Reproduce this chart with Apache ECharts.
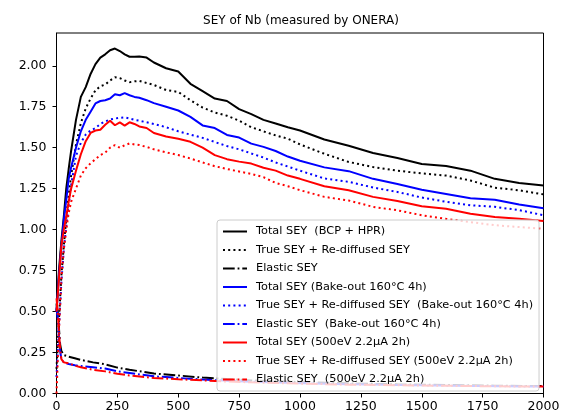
<!DOCTYPE html>
<html>
<head>
<meta charset="utf-8">
<script src="https://cdn.jsdelivr.net/npm/echarts@6/dist/echarts.min.js"></script>
<style>
html,body{margin:0;padding:0;background:#fff;}
#chart{width:566px;height:416px;}
</style>
</head>
<body>
<div id="chart"></div>
<script>
// ---- data ----
const energy = [0, 10, 20, 30, 40, 50, 60, 80, 100, 120, 140, 160, 180, 200, 220, 240, 260, 280, 300, 320, 340, 370, 400, 450, 500, 550, 600, 650, 700, 750, 800, 850, 900, 950, 1000, 1100, 1200, 1300, 1400, 1500, 1600, 1700, 1800, 1900, 2000];

const totalBCP = [0.50, 0.75, 0.93, 1.08, 1.25, 1.37, 1.48, 1.67, 1.81, 1.87, 1.95, 2.01, 2.05, 2.07, 2.095, 2.105, 2.09, 2.07, 2.055, 2.055, 2.056, 2.05, 2.02, 1.985, 1.965, 1.89, 1.845, 1.80, 1.785, 1.735, 1.705, 1.67, 1.648, 1.625, 1.605, 1.55, 1.512, 1.468, 1.437, 1.40, 1.388, 1.36, 1.31, 1.285, 1.27];
const trueBCP = [0.15, 0.45, 0.72, 0.90, 1.07, 1.21, 1.33, 1.52, 1.65, 1.74, 1.80, 1.85, 1.875, 1.885, 1.91, 1.93, 1.925, 1.91, 1.90, 1.905, 1.908, 1.895, 1.883, 1.852, 1.84, 1.79, 1.745, 1.715, 1.695, 1.665, 1.625, 1.60, 1.575, 1.555, 1.52, 1.463, 1.413, 1.382, 1.36, 1.343, 1.33, 1.30, 1.256, 1.24, 1.215];

const totalBake = [0.50, 0.72, 0.90, 1.06, 1.18, 1.31, 1.38, 1.50, 1.60, 1.67, 1.72, 1.77, 1.785, 1.79, 1.80, 1.826, 1.82, 1.833, 1.82, 1.81, 1.805, 1.79, 1.772, 1.75, 1.727, 1.688, 1.636, 1.62, 1.578, 1.562, 1.525, 1.505, 1.48, 1.446, 1.42, 1.38, 1.357, 1.31, 1.278, 1.243, 1.218, 1.192, 1.183, 1.153, 1.13];
const trueBake = [0.10, 0.40, 0.68, 0.88, 1.02, 1.15, 1.27, 1.45, 1.53, 1.58, 1.605, 1.62, 1.645, 1.66, 1.672, 1.678, 1.682, 1.685, 1.678, 1.67, 1.665, 1.655, 1.645, 1.625, 1.60, 1.58, 1.56, 1.535, 1.51, 1.49, 1.465, 1.44, 1.41, 1.385, 1.36, 1.312, 1.292, 1.257, 1.23, 1.196, 1.17, 1.149, 1.139, 1.119, 1.088];

const totalBeam = [0.50, 0.70, 0.90, 1.00, 1.08, 1.17, 1.25, 1.36, 1.46, 1.54, 1.59, 1.605, 1.61, 1.64, 1.665, 1.637, 1.655, 1.635, 1.655, 1.645, 1.63, 1.62, 1.59, 1.568, 1.555, 1.536, 1.50, 1.455, 1.43, 1.415, 1.403, 1.378, 1.36, 1.33, 1.31, 1.265, 1.24, 1.20, 1.175, 1.143, 1.127, 1.097, 1.077, 1.067, 1.053];
const trueBeam = [0.00, 0.38, 0.70, 0.88, 1.00, 1.10, 1.17, 1.25, 1.33, 1.375, 1.405, 1.43, 1.455, 1.47, 1.50, 1.516, 1.50, 1.515, 1.526, 1.52, 1.516, 1.505, 1.49, 1.472, 1.455, 1.434, 1.41, 1.387, 1.37, 1.355, 1.34, 1.32, 1.285, 1.265, 1.241, 1.20, 1.178, 1.139, 1.118, 1.088, 1.066, 1.046, 1.027, 1.016, 1.005];

const energyElastic = [0, 5, 10, 15, 20, 30, 50, 75, 100, 150, 200, 250, 300, 400, 500, 600, 700, 800, 1000, 1200, 1400, 1600, 1800, 2000];
const elasticBCP = [0.55, 0.50, 0.40, 0.30, 0.26, 0.235, 0.225, 0.215, 0.205, 0.19, 0.178, 0.158, 0.145, 0.122, 0.11, 0.097, 0.088, 0.08, 0.07, 0.062, 0.056, 0.052, 0.048, 0.045];
const elasticBake = [0.52, 0.46, 0.36, 0.26, 0.21, 0.19, 0.18, 0.172, 0.168, 0.16, 0.152, 0.135, 0.125, 0.105, 0.095, 0.085, 0.078, 0.072, 0.063, 0.057, 0.052, 0.048, 0.045, 0.042];
const elasticBeam = [0.58, 0.50, 0.38, 0.27, 0.21, 0.19, 0.185, 0.17, 0.16, 0.145, 0.135, 0.12, 0.11, 0.095, 0.087, 0.08, 0.073, 0.068, 0.06, 0.054, 0.05, 0.047, 0.044, 0.042];

const seriesNames = [
  'Total SEY  (BCP + HPR)',
  'True SEY + Re-diffused SEY',
  'Elastic SEY',
  'Total SEY (Bake-out 160°C 4h)',
  'True SEY + Re-diffused SEY  (Bake-out 160°C 4h)',
  'Elastic SEY  (Bake-out 160°C 4h)',
  'Total SEY (500eV 2.2μA 2h)',
  'True SEY + Re-diffused SEY (500eV 2.2μA 2h)',
  'Elastic SEY  (500eV 2.2μA 2h)'
];
const xTicks = [0, 250, 500, 750, 1000, 1250, 1500, 1750, 2000];
const yTicks = [0, 0.25, 0.5, 0.75, 1.0, 1.25, 1.5, 1.75, 2.0];
const titleText = 'SEY of Nb (measured by ONERA)';

// ---- build ----
const FONT = 'DejaVu Sans';
const LW = 2;
const DOT = [2, 3.2];
const DASHDOT = [11.7, 2.9, 1.8, 2.9];
function pairs(xs, ys) { return xs.map((x, i) => [x, ys[i]]); }
function mk(name, xs, ys, color, dash) {
  return {
    name: name, type: 'line', symbol: 'none', animation: false,
    data: pairs(xs, ys),
    lineStyle: { color: color, width: LW, type: dash },
    itemStyle: { color: color },
    emphasis: { disabled: true }
  };
}
const series = [
  mk(seriesNames[0], energy, totalBCP, '#000000', 'solid'),
  mk(seriesNames[1], energy, trueBCP, '#000000', DOT),
  mk(seriesNames[2], energyElastic, elasticBCP, '#000000', DASHDOT),
  mk(seriesNames[3], energy, totalBake, '#0000ff', 'solid'),
  mk(seriesNames[4], energy, trueBake, '#0000ff', DOT),
  mk(seriesNames[5], energyElastic, elasticBake, '#0000ff', DASHDOT),
  mk(seriesNames[6], energy, totalBeam, '#ff0000', 'solid'),
  mk(seriesNames[7], energy, trueBeam, '#ff0000', DOT),
  mk(seriesNames[8], energyElastic, elasticBeam, '#ff0000', DASHDOT)
];

const chart = echarts.init(document.getElementById('chart'), null, { renderer: 'canvas' });
chart.setOption({
  animation: false,
  backgroundColor: '#ffffff',
  title: {
    text: titleText, left: 296, top: 10, textAlign: 'center',
    textStyle: { fontFamily: FONT, fontSize: 12, fontWeight: 'normal', color: '#000' }
  },
  grid: { left: 56.5, right: 22.5, top: 33, bottom: 22.5, show: true, borderColor: '#000', borderWidth: 1, backgroundColor: 'transparent', containLabel: false },
  legend: {
    data: seriesNames, orient: 'vertical', left: 217, top: 220,
    itemWidth: 24, itemHeight: 12, itemGap: 7.5,
    padding: [6, 6, 6, 5],
    backgroundColor: 'rgba(255,255,255,0.8)', borderColor: '#cccccc', borderWidth: 1, borderRadius: 3,
    selectedMode: false,
    itemStyle: { opacity: 0, color: 'transparent', borderWidth: 0 },
    textStyle: { fontFamily: FONT, fontSize: 11.3, color: '#000', padding: [0, 0, 0, 4] }
  },
  xAxis: {
    type: 'value', min: 0, max: 2000, interval: 250,
    axisLine: { show: true, lineStyle: { color: '#000', width: 1 } },
    axisTick: { show: true, inside: false, length: 4, lineStyle: { color: '#000' }, customValues: xTicks },
    axisLabel: { fontFamily: FONT, fontSize: 12.5, color: '#000', margin: 7, customValues: xTicks, formatter: v => String(v) },
    splitLine: { show: false }
  },
  yAxis: {
    type: 'value', min: 0, max: 2.2,
    axisLine: { show: true, lineStyle: { color: '#000', width: 1 } },
    axisTick: { show: true, inside: false, length: 4, lineStyle: { color: '#000' }, customValues: yTicks },
    axisLabel: { fontFamily: FONT, fontSize: 12.5, color: '#000', margin: 10, customValues: yTicks, formatter: v => v.toFixed(2) },
    splitLine: { show: false }
  },
  series: series
});
</script>
</body>
</html>
